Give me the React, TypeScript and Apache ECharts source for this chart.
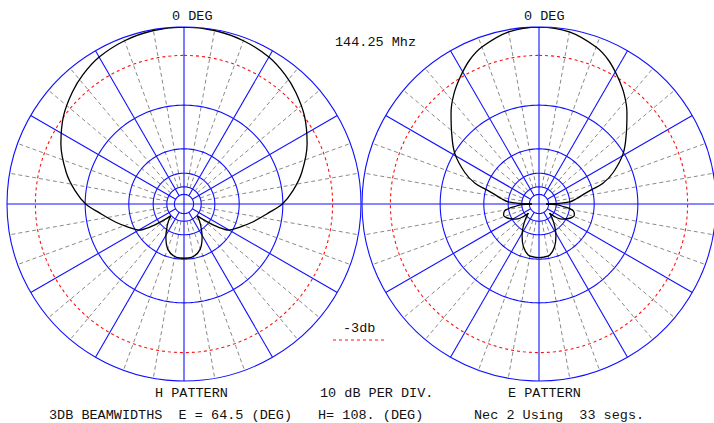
import React, { useEffect, useRef } from "react";
import * as echarts from "echarts";

// ---- grid definition (dB rings on ARRL log scale) ----
const ringDb = [-10, -20, -30, -40, -50];
const refDb = -3;
const spokeStepDeg = 10;
const majorStepDeg = 30;
const minorSpokeStartDb = -40;
const majorSpokeStartDb = -50;

// ---- H pattern (half, mirrored about 0-180 axis) ----
const hMainAngles = [0, 10, 20, 30, 38, 45, 54, 64, 75, 83, 90, 96, 105, 112, 120, 124, 128, 132];
const hMainDb = [0, -0.08, -0.32, -0.73, -1.3, -1.95, -2.95, -4.4, -6.4, -8.2, -10.1, -12.6, -15.8, -18.3, -21, -25, -32, -39.5];
const hBackAngles = [132, 137, 143, 151, 161, 172, 180];
const hBackDb = [-39.5, -35.5, -31.6, -26.7, -22.2, -20.4, -20.3];

// ---- E pattern ----
const eMainAngles = [0, 10, 20, 26, 32, 38, 44, 51, 59, 67, 72, 75, 78, 82, 86, 88.5, 90];
const eMainDb = [0, -0.22, -1.0, -1.8, -2.95, -4.2, -5.75, -7.8, -10.1, -13.5, -16.6, -20.5, -23.5, -26.5, -30, -38, -55];
const eSideAngles = [90, 92, 96, 100, 104, 108, 112, 116, 122, 127, 131];
const eSideDb = [-55, -40, -34, -28.5, -27.2, -26.8, -27.5, -28.8, -31.3, -34.5, -43.5];
const eBackAngles = [131, 137, 145, 152, 160, 168, 175, 180];
const eBackDb = [-43.5, -38, -31.9, -27.3, -23.3, -21, -20.6, -20.5];

// ---- texts ----
const degLabel = "0 DEG";
const freqLabel = "144.25 Mhz";
const refLabel = "-3db";
const hLabel = "H PATTERN";
const eLabel = "E PATTERN";
const divLabel = "10 dB PER DIV.";
const bwE = "3DB BEAMWIDTHS  E = 64.5 (DEG)";
const bwH = "H= 108. (DEG)";
const necLabel = "Nec 2 Using  33 segs.";

const BLUE = "#1010ff";
const GRAY = "#8a8a8a";
const RED = "#ff1010";
const FONT = '13.5px "Liberation Mono", "DejaVu Sans Mono", monospace';

const rOf = (db: number) => Math.pow(0.89, -db / 2);

function mainLobe(angles: number[], dbs: number[]) {
  const out: number[][] = [];
  for (let i = angles.length - 1; i >= 1; i--) out.push([rOf(dbs[i]), 360 - angles[i]]);
  for (let i = 0; i < angles.length; i++) out.push([rOf(dbs[i]), angles[i]]);
  return out;
}
function backLobe(angles: number[], dbs: number[]) {
  const out: number[][] = [];
  for (let i = 0; i < angles.length; i++) out.push([rOf(dbs[i]), angles[i]]);
  for (let i = angles.length - 2; i >= 0; i--) out.push([rOf(dbs[i]), 360 - angles[i]]);
  return out;
}
function sideLobe(angles: number[], dbs: number[], mirror: boolean) {
  return angles.map((a, i) => [rOf(dbs[i]), mirror ? 360 - a : a]);
}
function circle(r: number) {
  const out: number[][] = [];
  for (let a = 0; a <= 360; a += 2) out.push([r, a]);
  return out;
}

function lineSeries(polarIndex: number, data: number[][], color: string, width: number, type: any, z: number, smooth: number | boolean = false) {
  return {
    type: "line",
    coordinateSystem: "polar",
    polarIndex,
    data,
    symbol: "none",
    showSymbol: false,
    silent: true,
    clip: false,
    smooth,
    z,
    lineStyle: { color, width, type },
  };
}

function gridSeries(pi: number) {
  const s: any[] = [];
  for (let a = 0; a < 360; a += spokeStepDeg) {
    if (a % majorStepDeg === 0) {
      const start = a % 90 === 0 ? 0 : rOf(majorSpokeStartDb);
      s.push(lineSeries(pi, [[start, a], [1, a]], BLUE, 1.1, "solid", 3));
    } else {
      s.push(lineSeries(pi, [[rOf(minorSpokeStartDb), a], [1, a]], GRAY, 1, [4, 3], 2));
    }
  }
  ringDb.forEach((db) => s.push(lineSeries(pi, circle(rOf(db)), BLUE, 1.1, "solid", 3)));
  s.push(lineSeries(pi, circle(rOf(refDb)), RED, 1.1, [3, 3], 4));
  return s;
}

export default function App() {
  const ref = useRef<HTMLDivElement>(null);
  useEffect(() => {
    document.body.style.margin = "0";
    const chart = echarts.init(ref.current!, null, { renderer: "svg" });
    const polar = [
      { center: [184, 204], radius: 177 },
      { center: [539, 204], radius: 177 },
    ];
    const angleAxis = [0, 1].map((i) => ({
      polarIndex: i,
      type: "value",
      min: 0,
      max: 360,
      startAngle: 90,
      clockwise: true,
      axisLine: { show: true, lineStyle: { color: BLUE, width: 1.1 } },
      axisTick: { show: false },
      axisLabel: { show: false },
      splitLine: { show: false },
      splitArea: { show: false },
    }));
    const radiusAxis = [0, 1].map((i) => ({
      polarIndex: i,
      type: "value",
      min: 0,
      max: 1,
      axisLine: { show: false },
      axisTick: { show: false },
      axisLabel: { show: false },
      splitLine: { show: false },
    }));
    const series: any[] = [...gridSeries(0), ...gridSeries(1)];
    const sm = 0.35;
    series.push(lineSeries(0, mainLobe(hMainAngles, hMainDb), "#000", 1.3, "solid", 10, sm));
    series.push(lineSeries(0, backLobe(hBackAngles, hBackDb), "#000", 1.3, "solid", 10, sm));
    series.push(lineSeries(1, mainLobe(eMainAngles, eMainDb), "#000", 1.3, "solid", 10, sm));
    series.push(lineSeries(1, sideLobe(eSideAngles, eSideDb, false), "#000", 1.3, "solid", 10, sm));
    series.push(lineSeries(1, sideLobe(eSideAngles, eSideDb, true), "#000", 1.3, "solid", 10, sm));
    series.push(lineSeries(1, backLobe(eBackAngles, eBackDb), "#000", 1.3, "solid", 10, sm));

    const txt = (text: string, x: number, y: number) => ({
      type: "text",
      x,
      y,
      silent: true,
      style: { text, font: FONT, fill: "#111", textAlign: "left", textVerticalAlign: "middle" },
    });

    chart.setOption({
      animation: false,
      backgroundColor: "#ffffff",
      polar,
      angleAxis,
      radiusAxis,
      series,
      graphic: [
        txt(degLabel, 172, 16),
        txt(degLabel, 524, 16),
        txt(freqLabel, 335, 42),
        txt(refLabel, 343, 328),
        {
          type: "line",
          silent: true,
          shape: { x1: 333, y1: 340, x2: 387, y2: 340 },
          style: { stroke: RED, lineWidth: 1.2, lineDash: [3, 3] },
        },
        txt(hLabel, 155, 393),
        txt(divLabel, 320, 393),
        txt(eLabel, 508, 393),
        txt(bwE, 49, 415.5),
        txt(bwH, 318, 415.5),
        txt(necLabel, 474, 415.5),
      ],
    });
    return () => chart.dispose();
  }, []);
  return <div ref={ref} style={{ position: "absolute", left: 0, top: 0, width: 714, height: 423 }} />;
}
